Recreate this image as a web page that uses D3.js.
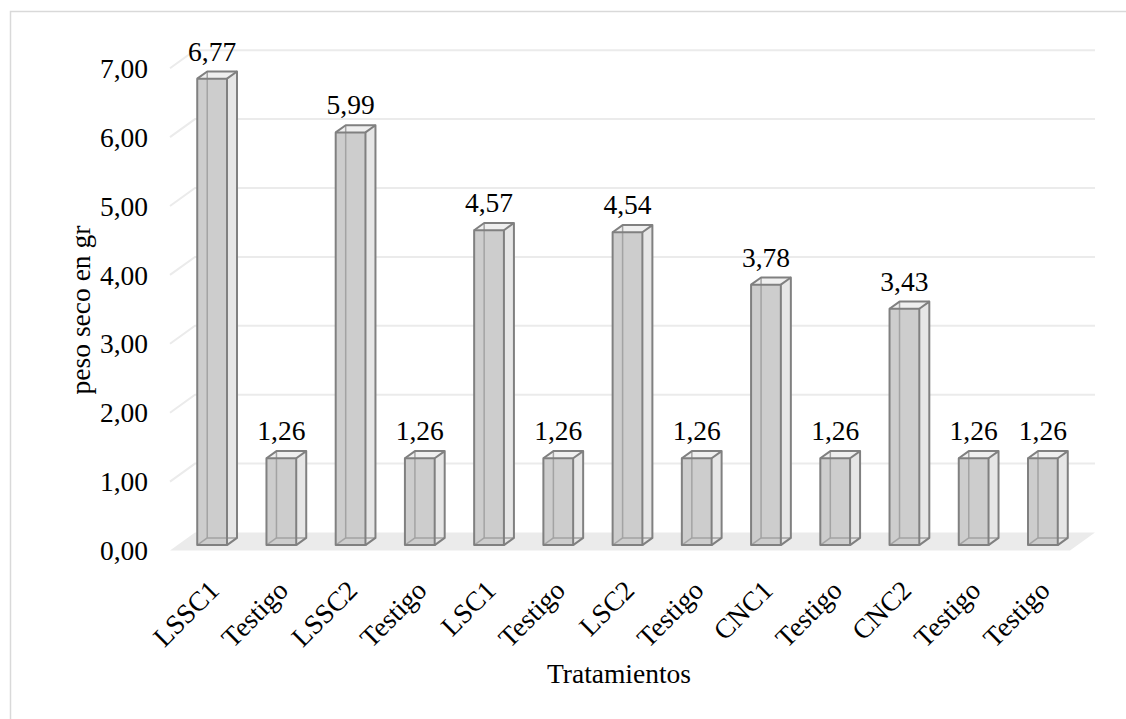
<!DOCTYPE html>
<html>
<head>
<meta charset="utf-8">
<script src="https://cdn.jsdelivr.net/npm/d3@7"></script>
<style>
  html, body { margin: 0; padding: 0; background: #ffffff; }
  svg { display: block; }
  text { font-family: "Liberation Serif", "Times New Roman", serif; fill: #000; }
</style>
</head>
<body>
<svg id="chart" width="1126" height="719"></svg>
<script>
// Dry weight per treatment
const categories = ["LSSC1", "Testigo", "LSSC2", "Testigo", "LSC1", "Testigo",
                    "LSC2", "Testigo", "CNC1", "Testigo", "CNC2", "Testigo", "Testigo"];
const values = [6.77, 1.26, 5.99, 1.26, 4.57, 1.26, 4.54, 1.26, 3.78, 1.26, 3.43, 1.26, 1.26];
const yTicks = [0, 1, 2, 3, 4, 5, 6, 7];
const yTitle = "peso seco en gr";
const xTitle = "Tratamientos";

const FS = 27.5;

const svg = d3.select("#chart");
const esLocale = d3.formatLocale({ decimal: ",", thousands: ".", grouping: [3], currency: ["", ""] });
const fmt = esLocale.format(".2f");

// oblique 3D layout: front floor edge, depth vector
const floorFrontY = 550.5;
const depth = { dx: 25, dy: -18 };
const x = d3.scaleBand().domain(d3.range(categories.length)).range([170, 1070]).paddingInner(0).paddingOuter(0);
const h = d3.scaleLinear().domain([0, 7]).range([0, 7 * 68.9]);

// point at horizontal position px, value v, depth fraction t
const P = (px, v, t) => [px + depth.dx * t, floorFrontY - h(v) + depth.dy * t];
const poly = pts => pts.map(p => p.join(",")).join(" ");

// chart frame
svg.append("rect")
  .attr("x", 10.5).attr("y", 11.5).attr("width", 1140).attr("height", 740)
  .attr("fill", "none").attr("stroke", "#d9d9d9").attr("stroke-width", 1.5);

const x0 = x.range()[0], x1 = x.range()[1];

// floor
svg.append("polygon")
  .attr("points", poly([P(x0, 0, 0), P(x1, 0, 0), P(x1, 0, 1), P(x0, 0, 1)]))
  .attr("fill", "#ebebeb");

// gridlines: side wall diagonal + back wall
const grid = svg.append("g").attr("fill", "none").attr("stroke", "#ebebeb").attr("stroke-width", 2);
yTicks.filter(v => v > 0).forEach(v => {
  grid.append("polyline")
    .attr("points", poly([P(x0, v, 0), P(x0, v, 1), P(x1, v, 1)]));
});

// y tick labels
svg.append("g").selectAll("text").data(yTicks).join("text")
  .attr("x", 148).attr("y", v => P(x0, v, 0)[1])
  .attr("dy", "0.35em")
  .attr("text-anchor", "end")
  .attr("font-size", FS)
  .text(v => fmt(v));

// bars
const bw = x.bandwidth() * 0.43;
const t0 = 0.3, t1 = 0.7;
const bars = svg.append("g");
values.forEach((v, i) => {
  const bx0 = x(i) + (x.bandwidth() - bw) / 2;
  const bx1 = bx0 + bw;
  const g = bars.append("g");
  // faces
  g.append("polygon").attr("points", poly([P(bx1, 0, t0), P(bx1, 0, t1), P(bx1, v, t1), P(bx1, v, t0)]))
    .attr("fill", "#e6e6e6");
  g.append("polygon").attr("points", poly([P(bx0, v, t0), P(bx1, v, t0), P(bx1, v, t1), P(bx0, v, t1)]))
    .attr("fill", "#efefef");
  g.append("polygon").attr("points", poly([P(bx0, 0, t0), P(bx1, 0, t0), P(bx1, v, t0), P(bx0, v, t0)]))
    .attr("fill", "#cdcdcd");
  // hidden edges seen through the faces
  const hidden = g.append("g").attr("stroke", "#a3a3a3").attr("stroke-width", 1.5).attr("fill", "none");
  hidden.append("polyline").attr("points", poly([P(bx0, v, t1), P(bx0, 0, t1), P(bx1, 0, t1)]));
  hidden.append("polyline").attr("points", poly([P(bx0, 0, t0), P(bx0, 0, t1)]));
  // visible edges
  const edge = g.append("g").attr("stroke", "#808080").attr("stroke-width", 2)
    .attr("fill", "none").attr("stroke-linejoin", "round");
  edge.append("polygon").attr("points", poly([P(bx0, 0, t0), P(bx1, 0, t0), P(bx1, v, t0), P(bx0, v, t0)]));
  edge.append("polyline").attr("points", poly([P(bx1, 0, t0), P(bx1, 0, t1), P(bx1, v, t1), P(bx1, v, t0)]));
  edge.append("polyline").attr("points", poly([P(bx0, v, t0), P(bx0, v, t1), P(bx1, v, t1)]));
  // value label
  g.append("text")
    .attr("x", P((bx0 + bx1) / 2, v, t0)[0])
    .attr("y", P(bx0, v, t0)[1] - 18)
    .attr("text-anchor", "middle")
    .attr("font-size", FS)
    .text(fmt(v));
});

// category labels
svg.append("g").selectAll("text").data(categories).join("text")
  .attr("transform", (d, i) => `translate(${x(i) + x.bandwidth() / 2 + 16},592) rotate(-45)`)
  .attr("text-anchor", "end")
  .attr("font-size", FS)
  .text(d => d);

// axis titles
svg.append("text")
  .attr("transform", "translate(90,310) rotate(-90)")
  .attr("text-anchor", "middle")
  .attr("font-size", FS)
  .text(yTitle);

svg.append("text")
  .attr("x", 619).attr("y", 683)
  .attr("text-anchor", "middle")
  .attr("font-size", FS)
  .text(xTitle);
</script>
</body>
</html>
